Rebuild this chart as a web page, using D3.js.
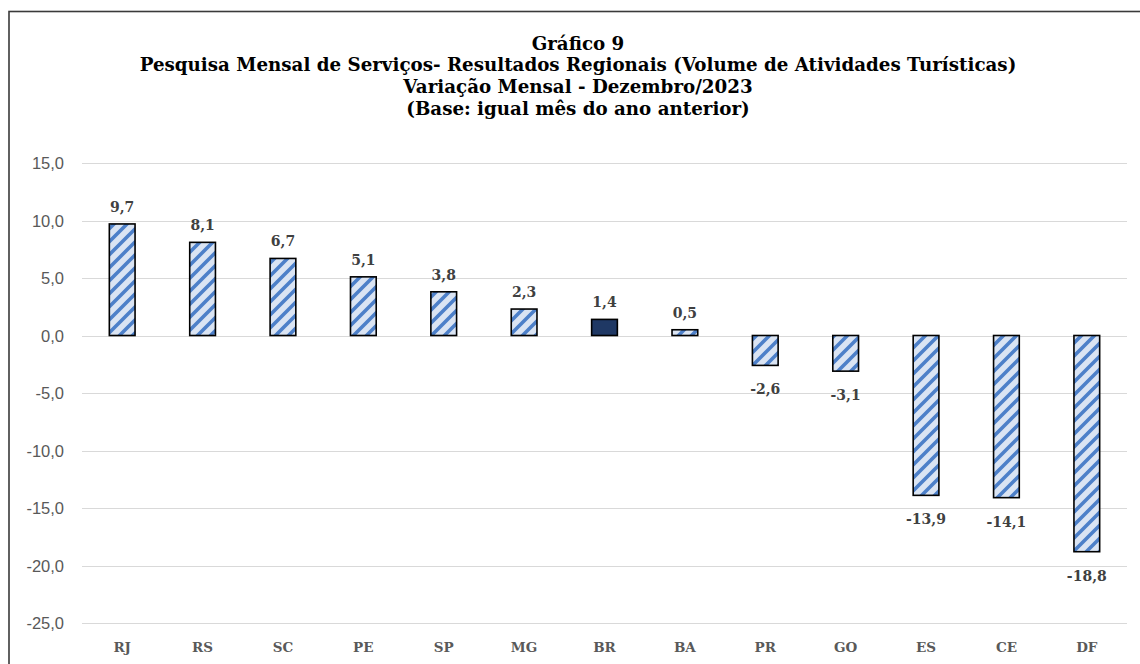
<!DOCTYPE html>
<html>
<head>
<meta charset="utf-8">
<script src="https://cdn.jsdelivr.net/npm/d3@7"></script>
<style>
  body { margin: 0; background: #fff; }
  svg { display: block; }
</style>
</head>
<body>
<svg id="chart" width="1140" height="664"></svg>
<script>
const states = ['RJ', 'RS', 'SC', 'PE', 'SP', 'MG', 'BR', 'BA', 'PR', 'GO', 'ES', 'CE', 'DF'];
const values = [9.7, 8.1, 6.7, 5.1, 3.8, 2.3, 1.4, 0.5, -2.6, -3.1, -13.9, -14.1, -18.8];
const yTicks = [15, 10, 5, 0, -5, -10, -15, -20, -25];
const titleLines = [
    'Gráfico 9',
    'Pesquisa Mensal de Serviços- Resultados Regionais (Volume de Atividades Turísticas)',
    'Variação Mensal - Dezembro/2023',
    '(Base: igual mês do ano anterior)'
];

const plot = {left: 82, right: 1127, top: 163, bottom: 623};

const ptBR = d3.formatLocale({decimal: ',', thousands: '.', grouping: [3], currency: ['R$', ''], minus: '-'});
const fmt = ptBR.format('.1f');

const svg = d3.select('#chart');

// chart frame (right and bottom edges fall outside the picture)
svg.append('rect')
    .attr('x', 9).attr('y', 11.5)
    .attr('width', 1160).attr('height', 700)
    .attr('fill', 'none')
    .attr('stroke', '#3a3a3a')
    .attr('stroke-width', 1.6);

// wide upward diagonal hatch
const p = 13;
const defs = svg.append('defs');
const pat = defs.append('pattern')
    .attr('id', 'hatch')
    .attr('patternUnits', 'userSpaceOnUse')
    .attr('width', p).attr('height', p);
pat.append('rect').attr('width', p).attr('height', p).attr('fill', '#dae4f3');
pat.append('path')
    .attr('d', `M-3,${p + 3} L${p + 3},-3 M${-p / 2},${p / 2} L${p / 2},${-p / 2} M${p / 2},${p * 1.5} L${p * 1.5},${p / 2}`)
    .attr('stroke', '#4d80c9')
    .attr('stroke-width', 3.6);

const x = d3.scaleBand()
    .domain(states)
    .range([plot.left, plot.right])
    .paddingInner(0.68)
    .paddingOuter(0.34);

const y = d3.scaleLinear()
    .domain([-25, 15])
    .range([plot.bottom, plot.top]);

// title
const title = svg.append('g')
    .attr('font-family', '"DejaVu Serif", serif')
    .attr('font-weight', 'bold')
    .attr('fill', '#000')
    .attr('text-anchor', 'middle');

title.selectAll('text')
    .data(titleLines)
    .join('text')
    .attr('x', 578)
    .attr('y', (d, i) => 49.5 + i * 21.7)
    .attr('font-size', 16)
    .text(d => d);

// fit the long line to the reference width
const longest = title.selectAll('text').nodes()[1];
const w = longest.getComputedTextLength();
title.selectAll('text').attr('font-size', 16 * 877 / w);

// gridlines
svg.append('g')
    .selectAll('line')
    .data(yTicks)
    .join('line')
    .attr('x1', plot.left).attr('x2', plot.right)
    .attr('y1', d => Math.round(y(d)) + 0.5)
    .attr('y2', d => Math.round(y(d)) + 0.5)
    .attr('stroke', '#d9d9d9')
    .attr('stroke-width', 1.2);

// y axis labels
svg.append('g')
    .selectAll('text')
    .data(yTicks)
    .join('text')
    .attr('x', 64)
    .attr('y', d => y(d) + 6)
    .attr('text-anchor', 'end')
    .attr('font-family', '"Liberation Sans", sans-serif')
    .attr('font-size', 16.5)
    .attr('fill', '#595959')
    .text(d => fmt(d));

// bars
svg.append('g')
    .selectAll('rect')
    .data(values)
    .join('rect')
    .attr('x', (d, i) => x(states[i]))
    .attr('width', x.bandwidth())
    .attr('y', d => y(Math.max(0, d)))
    .attr('height', d => Math.abs(y(d) - y(0)))
    .attr('fill', (d, i) => states[i] === 'BR' ? '#1f3864' : 'url(#hatch)')
    .attr('stroke', '#000')
    .attr('stroke-width', 1.6);

// data labels
svg.append('g')
    .selectAll('text')
    .data(values)
    .join('text')
    .attr('x', (d, i) => x(states[i]) + x.bandwidth() / 2)
    .attr('y', d => d >= 0 ? y(d) - 12 : y(d) + 29)
    .attr('text-anchor', 'middle')
    .attr('font-family', '"DejaVu Serif", serif')
    .attr('font-weight', 'bold')
    .attr('font-size', 14)
    .attr('fill', '#404040')
    .text(d => fmt(d));

// category labels
svg.append('g')
    .selectAll('text')
    .data(states)
    .join('text')
    .attr('x', d => x(d) + x.bandwidth() / 2)
    .attr('y', 652)
    .attr('text-anchor', 'middle')
    .attr('font-family', '"DejaVu Serif", serif')
    .attr('font-weight', 'bold')
    .attr('font-size', 13.5)
    .attr('fill', '#595959')
    .text(d => d);
</script>
</body>
</html>
